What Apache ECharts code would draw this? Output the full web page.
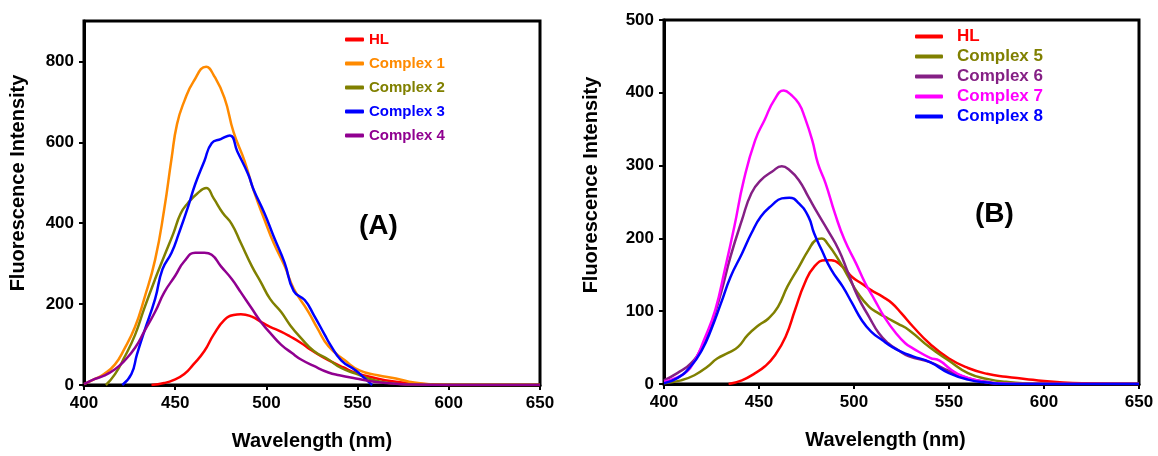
<!DOCTYPE html>
<html>
<head>
<meta charset="UTF-8">
<title>Fluorescence spectra</title>
<script src="https://cdn.jsdelivr.net/npm/echarts@6.0.0/dist/echarts.min.js"></script>
<style>
html, body { margin: 0; padding: 0; background: #fff; }
#main { width: 1158px; height: 456px; }
</style>
</head>
<body>
<div id="main"></div>
<script>
// tick values
var yTicksA = [0, 200, 400, 600, 800];
var yTicksB = [0, 100, 200, 300, 400, 500];

// panel A : [wavelength nm, intensity]
var hlA = [[437,0],[444,5],[449,12],[455,27],[460,51],[466,84],[471,124],[477,161],[482,173],[486,175],[492,169],[497,156],[502,144],[508,132],[513,120],[519,104],[524,88],[530,71],[535,59],[542,44],[549,30],[559,18],[569,9],[580,4],[590,2],[600,0],[650,0]];
var c1A = [[400,2],[406,15],[411,27],[417,51],[422,88],[428,144],[433,213],[439,310],[444,435],[448,560],[451,645],[455,702],[460,750],[467,787],[471,767],[477,710],[482,625],[488,554],[493,481],[499,408],[504,351],[510,294],[515,238],[523,181],[528,140],[534,96],[543,61],[551,36],[561,24],[571,16],[581,6],[590,2],[600,0],[650,0]];
var c2A = [[412,0],[417,27],[422,67],[428,124],[433,189],[439,262],[444,319],[449,375],[453,424],[457,450],[462,473],[467,487],[471,462],[476,426],[481,398],[486,351],[492,294],[497,254],[502,213],[508,181],[513,148],[519,116],[526,84],[534,63],[541,42],[549,28],[559,12],[569,4],[580,1],[600,0],[650,0]];
var c3A = [[421,0],[426,27],[429,75],[433,132],[439,213],[443,286],[448,327],[452,375],[457,440],[461,497],[466,554],[470,598],[475,608],[480,617],[484,578],[490,521],[493,483],[499,424],[504,367],[510,302],[515,232],[521,210],[526,173],[532,124],[535,100],[541,61],[549,36],[555,12],[558,0]];
var c4A = [[400,2],[406,15],[411,23],[417,39],[422,59],[428,92],[433,132],[439,181],[444,229],[450,270],[455,306],[461,327],[466,327],[470,322],[475,294],[481,262],[486,229],[492,189],[497,156],[503,124],[508,100],[514,79],[519,63],[526,47],[534,31],[540,24],[549,16],[559,8],[569,4],[580,1],[600,0],[650,0]];

// panel B
var hlB = [[434,0],[441,5],[448,15],[453,24],[458,38],[464,65],[469,102],[474,138],[479,161],[485,170],[488,170],[494,161],[499,147],[504,138],[509,129],[515,120],[520,111],[525,97],[531,79],[540,55],[550,35],[560,22],[570,14],[580,10],[590,7],[600,4],[610,2],[620,1],[650,0]];
var c5B = [[400,1],[409,5],[416,12],[423,24],[428,35],[434,43],[439,51],[444,67],[450,81],[455,90],[460,106],[465,134],[471,161],[476,184],[480,198],[483,200],[486,193],[492,170],[497,147],[502,125],[508,106],[513,97],[518,90],[523,83],[529,74],[540,50],[550,32],[560,15],[570,7],[580,3],[600,0],[650,0]];
var c6B = [[400,5],[407,15],[414,28],[420,51],[425,83],[430,125],[435,175],[441,225],[446,262],[451,280],[457,292],[462,299],[466,294],[471,280],[476,257],[481,234],[486,212],[492,184],[497,152],[502,120],[508,92],[513,70],[518,56],[523,47],[529,38],[540,30],[550,18],[560,8],[570,3],[580,0],[650,0]];
var c7B = [[400,3],[406,8],[411,15],[416,31],[421,60],[427,102],[432,157],[437,216],[442,280],[448,335],[453,363],[458,390],[463,403],[467,397],[471,385],[474,367],[478,335],[481,303],[485,276],[490,234],[495,198],[501,166],[506,138],[511,115],[516,92],[522,70],[527,56],[531,49],[540,36],[545,32],[551,20],[557,11],[565,5],[574,1],[590,0],[650,0]];
var c8B = [[400,1],[407,8],[414,24],[420,47],[425,76],[430,111],[435,147],[441,179],[446,207],[451,230],[457,246],[462,255],[466,256],[471,248],[476,230],[479,207],[483,184],[488,157],[494,134],[499,111],[504,88],[509,72],[515,60],[520,51],[525,44],[531,38],[540,30],[550,15],[560,6],[570,2],[580,0],[650,0]];

var fnt = '"Liberation Sans", Arial, sans-serif';

function xAx(idx, pad) {
  return {
    gridIndex: idx, type: 'value', min: 400, max: 650, interval: 50,
    name: 'Wavelength (nm)', nameLocation: 'middle', nameGap: 46,
    nameTextStyle: { fontFamily: fnt, fontWeight: 'bold', fontSize: 20, color: '#000', padding: pad },
    axisLine: { lineStyle: { color: '#000', width: 3 } },
    axisTick: { inside: false, length: 5, lineStyle: { color: '#000', width: 2 } },
    axisLabel: { fontFamily: fnt, fontWeight: 'bold', fontSize: 17, color: '#000', margin: 10 },
    splitLine: { show: false }
  };
}
function yAx(idx, max, ticks, gap, pad) {
  return {
    gridIndex: idx, type: 'value', min: 0, max: max,
    name: 'Fluorescence Intensity', nameLocation: 'middle', nameGap: gap,
    nameTextStyle: { fontFamily: fnt, fontWeight: 'bold', fontSize: 20, color: '#000', padding: pad },
    axisLine: { show: true, lineStyle: { color: '#000', width: 3 } },
    axisTick: { show: true, inside: false, length: 5, customValues: ticks, lineStyle: { color: '#000', width: 2 } },
    axisLabel: { fontFamily: fnt, fontWeight: 'bold', fontSize: 17, color: '#000', margin: 10, customValues: ticks },
    splitLine: { show: false }
  };
}
function line(name, data, color, idx) {
  return {
    name: name, type: 'line', xAxisIndex: idx, yAxisIndex: idx, data: data,
    smooth: 0.5, showSymbol: false, lineStyle: { width: 2.5, color: color }, itemStyle: { color: color }
  };
}
function lgItem(name, color) {
  return { name: name, textStyle: { color: color } };
}

var chart = echarts.init(document.getElementById('main'));
chart.setOption({
  backgroundColor: '#fff',
  animation: false,
  title: [
    { text: '(A)', left: 359, top: 212, padding: 0, textStyle: { fontFamily: fnt, fontWeight: 'bold', fontSize: 28, color: '#000' } },
    { text: '(B)', left: 975, top: 200, padding: 0, textStyle: { fontFamily: fnt, fontWeight: 'bold', fontSize: 28, color: '#000' } }
  ],
  grid: [
    { left: 84, top: 21, width: 456, height: 370, show: true, borderColor: '#000', borderWidth: 3 },
    { left: 664, top: 20, width: 475, height: 364, show: true, borderColor: '#000', borderWidth: 3 }
  ],
  legend: [
    {
      left: 345, top: 32, padding: 0, orient: 'vertical', itemWidth: 19, itemHeight: 4, itemGap: 9,
      icon: 'roundRect', selectedMode: false,
      textStyle: { fontFamily: fnt, fontWeight: 'bold', fontSize: 15 },
      data: [lgItem('HL', '#ff0000'), lgItem('Complex 1', '#ff8a00'), lgItem('Complex 2', '#808000'),
             lgItem('Complex 3', '#0000ff'), lgItem('Complex 4', '#900090')]
    },
    {
      left: 915, top: 28, padding: 0, orient: 'vertical', itemWidth: 28, itemHeight: 4, itemGap: 3,
      icon: 'roundRect', selectedMode: false,
      textStyle: { fontFamily: fnt, fontWeight: 'bold', fontSize: 17, padding: [0, 0, 0, 9] },
      data: [lgItem('HL', '#ff0000'), lgItem('Complex 5', '#808000'), lgItem('Complex 6', '#851f85'),
             lgItem('Complex 7', '#ff00ff'), lgItem('Complex 8', '#0000ff')]
    }
  ],
  xAxis: [xAx(0, [0, 0, 0, 0]), xAx(1, [0, 32, 0, 0])],
  yAxis: [yAx(0, 900, yTicksA, 56, [0, 0, 0, 40]), yAx(1, 500, yTicksB, 63, [0, 0, 0, 34])],
  series: [
    line('HL', hlA, '#ff0000', 0),
    line('Complex 1', c1A, '#ff8a00', 0),
    line('Complex 2', c2A, '#808000', 0),
    line('Complex 3', c3A, '#0000ff', 0),
    line('Complex 4', c4A, '#900090', 0),
    line('HL', hlB, '#ff0000', 1),
    line('Complex 5', c5B, '#808000', 1),
    line('Complex 6', c6B, '#851f85', 1),
    line('Complex 7', c7B, '#ff00ff', 1),
    line('Complex 8', c8B, '#0000ff', 1)
  ]
});
window.onresize = function () { chart.resize(); };
</script>
</body>
</html>
